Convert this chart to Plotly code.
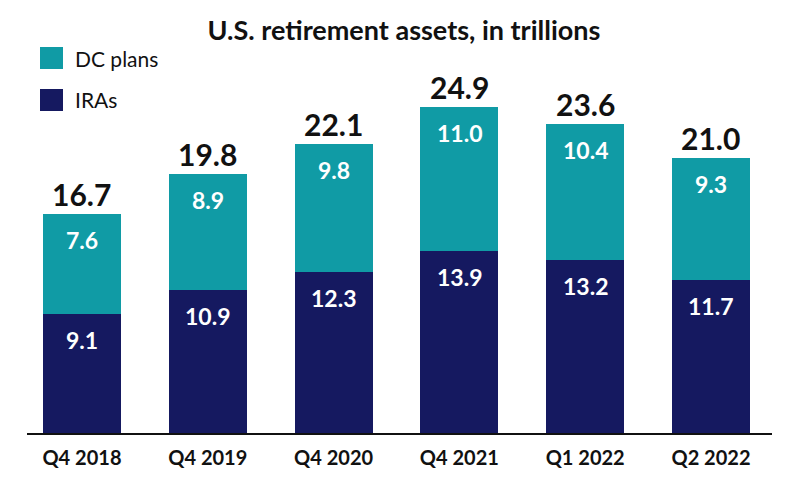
import plotly.graph_objects as go

quarters = ["Q4 2018", "Q4 2019", "Q4 2020", "Q4 2021", "Q1 2022", "Q2 2022"]
iras = [9.1, 10.9, 12.3, 13.9, 13.2, 11.7]
dc_plans = [7.6, 8.9, 9.8, 11.0, 10.4, 9.3]
totals = [16.7, 19.8, 22.1, 24.9, 23.6, 21.0]

navy = "#151960"
teal = "#109ba5"

fig = go.Figure()
fig.add_trace(go.Bar(x=quarters, y=iras, name="IRAs", marker_color=navy,
                     marker_line_width=0, showlegend=False))
fig.add_trace(go.Bar(x=quarters, y=dc_plans, name="DC plans", marker_color=teal,
                     marker_line_width=0, showlegend=False))

# segment labels near the top of each segment, totals above the bars
for q, ira, dc, tot in zip(quarters, iras, dc_plans, totals):
    fig.add_annotation(x=q, y=ira, text=f"<b>{ira:.1f}</b>", showarrow=False,
                       yanchor="top", yshift=-10,
                       font=dict(family="Lato", size=23, color="white"))
    fig.add_annotation(x=q, y=ira + dc, text=f"<b>{dc:.1f}</b>", showarrow=False,
                       yanchor="top", yshift=-10,
                       font=dict(family="Lato", size=23, color="white"))
    fig.add_annotation(x=q, y=tot, text=f"<b>{tot:.1f}</b>", showarrow=False,
                       yanchor="bottom", yshift=0,
                       font=dict(family="Lato", size=30, color="#111111"))

# legend drawn by hand so the swatches match the original size
# (page coords: plot area spans x 27..772, y 60..433)
legend_items = [("DC plans", teal, 58), ("IRAs", navy, 100)]
for label, color, yc in legend_items:
    fig.add_shape(type="rect", xref="paper", yref="paper",
                  x0=(40 - 27) / 745, x1=(63 - 27) / 745,
                  y0=(433 - yc - 11) / 373, y1=(433 - yc + 11) / 373,
                  fillcolor=color, line_width=0)
    fig.add_annotation(xref="paper", yref="paper", x=(73 - 27) / 745, y=(433 - yc) / 373,
                       text=label, showarrow=False, xanchor="left", yanchor="middle",
                       font=dict(family="Lato", size=21, color="#111111"))

# the page body adds an 8px offset, so the figure is 8px smaller on both axes
fig.update_layout(
    width=792, height=481,
    barmode="stack", bargap=0.38,
    showlegend=False,
    paper_bgcolor="white", plot_bgcolor="white",
    margin=dict(l=19, r=28, t=52, b=56),
    title=dict(text="<b>U.S. retirement assets, in trillions</b>", x=0.5, xanchor="center",
               y=0.954, yanchor="middle",
               font=dict(family="Lato", size=27, color="#111111")),
    xaxis=dict(range=[-0.437, 5.485], showline=True, linecolor="#111111", linewidth=2,
               ticks="", ticklabelstandoff=6,
               tickfont=dict(family="Lato", size=20, color="#111111"),
               tickprefix="<b>", ticksuffix="</b>"),
    yaxis=dict(range=[0, 28.5], visible=False, showgrid=False, zeroline=False),
)

fig.write_html("out.html")
